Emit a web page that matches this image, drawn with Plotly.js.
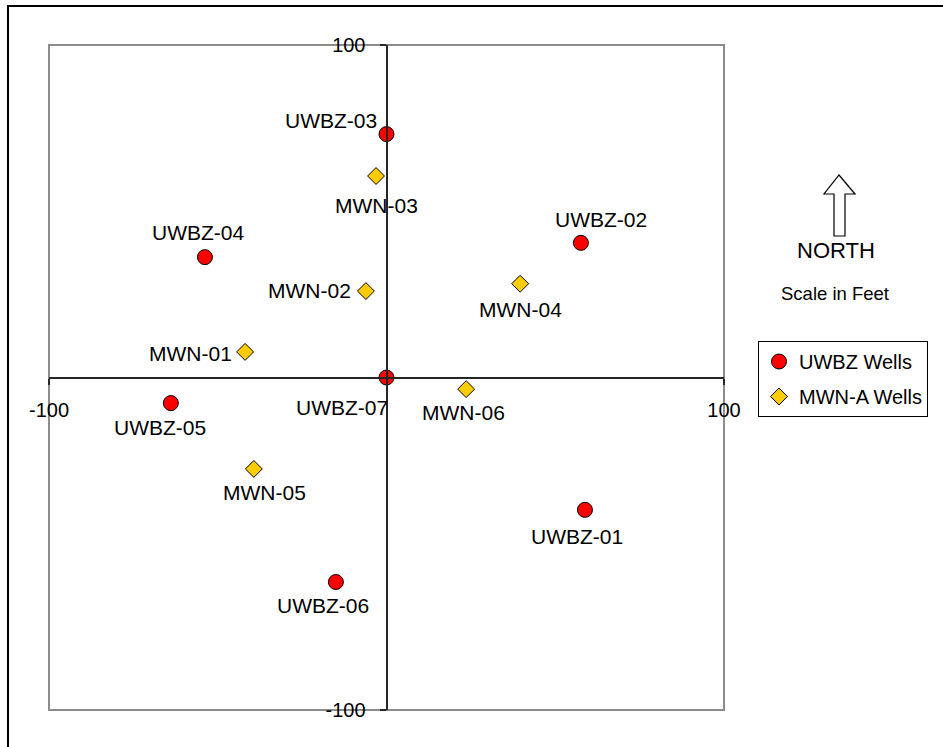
<!DOCTYPE html>
<html>
<head>
<meta charset="utf-8">
<script src="https://cdn.plot.ly/plotly-3.0.1.min.js"></script>
<style>html,body{margin:0;padding:0;background:#fff;}#chart{width:943px;height:747px;}</style>
</head>
<body>
<div id="chart"></div>
<script>
// ---- data ----
var uwbzNames = ["UWBZ-01","UWBZ-02","UWBZ-03","UWBZ-04","UWBZ-05","UWBZ-06","UWBZ-07"];
var uwbzX = [58.8, 57.6, 0, -53.8, -63.9, -15.0, 0];
var uwbzY = [-39.8, 40.5, 73.2, 36.2, -7.7, -61.5, 0];

var mwnNames = ["MWN-01","MWN-02","MWN-03","MWN-04","MWN-05","MWN-06"];
var mwnX = [-41.9, -6.1, -3.1, 39.6, -39.3, 23.6];
var mwnY = [7.7, 26.0, 60.6, 28.2, -27.5, -3.5];

var seriesNames = ["UWBZ Wells", "MWN-A Wells"];
var tickVals = [-100, 100];
var tickText = ["-100", "100"];

// ---- layout helpers (pixel offsets of labels from their markers) ----
var uwbzLabelShift = [[-8,-27],[20,23],[-55.5,14],[-7,25],[-11,-24],[-13,-24],[-45,-30]];
var mwnLabelShift  = [[-55,-2],[-56,1],[0,-29],[0,-26],[11,-24],[-3,-23]];

var FONT = "Liberation Sans, Arial, sans-serif";
var L = 49, R = 724, T = 45, B = 710, W = 943, H = 747;
function px(x){ return (x - L) / (R - L); }
function py(y){ return (B - y) / (B - T); }

var traces = [
  {type:"scatter", mode:"markers", name:seriesNames[0], legendgroup:"a",
   x:uwbzX, y:uwbzY, text:uwbzNames, hoverinfo:"text", cliponaxis:false,
   marker:{symbol:"circle", size:15, color:"#FF0000", line:{color:"#000", width:1}}},
  {type:"scatter", mode:"markers", name:seriesNames[1], legendgroup:"b",
   x:mwnX, y:mwnY, text:mwnNames, hoverinfo:"text", cliponaxis:false,
   marker:{symbol:"diamond", size:13, color:"#FFCC00", line:{color:"#000", width:1}}}
];

var annotations = [];
function addLabels(names, xs, ys, shifts){
  for (var i=0;i<names.length;i++){
    annotations.push({x:xs[i], y:ys[i], xref:"x", yref:"y", text:names[i], showarrow:false,
      xanchor:"center", yanchor:"middle",
      xshift:shifts[i][0], yshift:shifts[i][1], font:{family:FONT, size:21, color:"#000"}});
  }
}
addLabels(uwbzNames, uwbzX, uwbzY, uwbzLabelShift);
addLabels(mwnNames, mwnX, mwnY, mwnLabelShift);
annotations.push({xref:"paper", yref:"paper", x:px(835.5), y:py(250), xanchor:"center", yanchor:"middle",
  text:"NORTH", showarrow:false, font:{family:FONT, size:22, color:"#000"}});
annotations.push({xref:"paper", yref:"paper", x:px(834.5), y:py(293), xanchor:"center", yanchor:"middle",
  text:"Scale in Feet", showarrow:false, font:{family:FONT, size:18.5, color:"#000"}});

function P(x,y){ return px(x).toFixed(5) + "," + py(y).toFixed(5); }
var arrowPath = "M" + P(839,175) + " L" + P(855,194) + " L" + P(845,194) + " L" + P(845,236) +
  " L" + P(834,236) + " L" + P(834,194) + " L" + P(824,194) + " Z";

var shapes = [
  {type:"rect", xref:"paper", yref:"paper", x0:0, x1:1, y0:0, y1:1, layer:"below",
   line:{color:"#8c8c8c", width:2}},
  {type:"rect", xref:"paper", yref:"paper", x0:px(8), x1:px(960), y0:py(760), y1:py(6),
   line:{color:"#000", width:2}},
  {type:"path", xref:"paper", yref:"paper", path:arrowPath, fillcolor:"#fff",
   line:{color:"#000", width:1.2}}
];

var layout = {
  width:W, height:H,
  margin:{l:L, r:W-R, t:T, b:H-B, pad:0},
  paper_bgcolor:"#fff", plot_bgcolor:"#fff",
  showlegend:true,
  font:{family:FONT, size:20, color:"#000"},
  xaxis:{range:[-100,100], anchor:"free", position:0.5, showgrid:false, zeroline:false,
    showline:true, linecolor:"#262626", linewidth:2,
    tickmode:"array", tickvals:tickVals, ticktext:tickText, ticks:"outside", ticklen:6,
    tickcolor:"#262626", tickwidth:1.5, tickfont:{family:FONT, size:20, color:"#000"}, ticklabelstandoff:8, fixedrange:true},
  yaxis:{range:[-100,100], anchor:"free", position:0.5, showgrid:false, zeroline:false,
    showline:true, linecolor:"#262626", linewidth:2,
    tickmode:"array", tickvals:tickVals, ticktext:tickText, ticks:"outside", ticklen:6,
    tickcolor:"#262626", tickwidth:1.5, tickfont:{family:FONT, size:20, color:"#000"}, ticklabelstandoff:10, fixedrange:true},
  legend:{x:px(758), y:py(341), xanchor:"left", yanchor:"top", bgcolor:"#fff",
    bordercolor:"#000", borderwidth:1, font:{family:FONT, size:20, color:"#000"},
    traceorder:"grouped", tracegroupgap:6, itemwidth:30},
  annotations:annotations,
  shapes:shapes
};

Plotly.newPlot("chart", traces, layout, {displayModeBar:false, staticPlot:true});
</script>
</body>
</html>
